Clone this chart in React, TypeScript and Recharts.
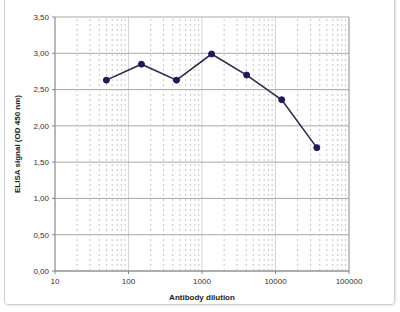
import React from 'react';
import { ComposedChart, Line, XAxis, YAxis, CartesianGrid, ReferenceLine } from 'recharts';

const dilutions = [50, 150, 450, 1350, 4050, 12150, 36450];
const signals = [2.63, 2.85, 2.63, 2.99, 2.7, 2.36, 1.7];
const xTicks = [10, 100, 1000, 10000, 100000];
const yTicks = [0, 0.5, 1, 1.5, 2, 2.5, 3, 3.5];
const minorMultipliers = [2, 3, 4, 5, 6, 7, 8, 9];
const decades = [10, 100, 1000, 10000];

const data = dilutions.map((d, i) => ({ dilution: d, signal: signals[i] }));
const minorX = decades.flatMap((d) => minorMultipliers.map((m) => d * m));

const fmtY = (v: number) => v.toFixed(2).replace('.', ',');
const FONT = '"Liberation Sans", Arial, sans-serif';

export default function App() {
  return (
    <div style={{ position: 'absolute', left: 0, top: 0, width: 400, height: 312, background: '#fff', fontFamily: FONT }}>
      <div style={{ position: 'absolute', left: 4, top: -6, width: 391, height: 311, border: '1px solid #cfcfcf', borderRadius: 4, boxSizing: 'border-box', boxShadow: '1px 1px 2px #e4e4e4' }} />
      <ComposedChart
        width={400}
        height={312}
        data={data}
        margin={{ top: 17, right: 51, left: 0, bottom: 0 }}
        style={{ position: 'absolute', left: 0, top: 0 }}
      >
        <CartesianGrid horizontal={false} vertical={true} stroke="#d4d4d4" strokeWidth={1} />
        {minorX.map((v) => (
          <ReferenceLine key={v} x={v} stroke="#c4c4c4" strokeDasharray="2 3" strokeWidth={1} ifOverflow="hidden" />
        ))}
        <CartesianGrid horizontal={true} vertical={false} stroke="#a8a8a8" strokeWidth={1} />
        <ReferenceLine x={100000} stroke="#a0a0a0" />
        <XAxis
          dataKey="dilution"
          type="number"
          scale="log"
          domain={[10, 100000]}
          ticks={xTicks}
          allowDataOverflow
          height={41}
          tickSize={3}
          tickMargin={4}
          stroke="#888"
          tick={{ fill: '#333', fontSize: 8, fontFamily: FONT }}
          label={{ value: 'Antibody dilution', position: 'insideBottom', offset: 12, fill: '#222', fontSize: 8, fontWeight: 'bold', fontFamily: FONT }}
        />
        <YAxis
          type="number"
          domain={[0, 3.5]}
          ticks={yTicks}
          width={55}
          tickSize={3}
          tickMargin={3}
          tickFormatter={fmtY}
          stroke="#888"
          tick={{ fill: '#333', fontSize: 8, fontFamily: FONT }}
          label={{ value: 'ELISA signal (OD 450 nm)', angle: -90, position: 'center', dx: -10, fill: '#222', fontSize: 8, fontWeight: 'bold', fontFamily: FONT }}
        />
        <Line
          dataKey="signal"
          stroke="#2b2b4d"
          strokeWidth={1.6}
          dot={{ r: 3, fill: '#1c1c5a', stroke: '#1c1c5a', strokeWidth: 1 }}
          isAnimationActive={false}
        />
      </ComposedChart>
    </div>
  );
}
